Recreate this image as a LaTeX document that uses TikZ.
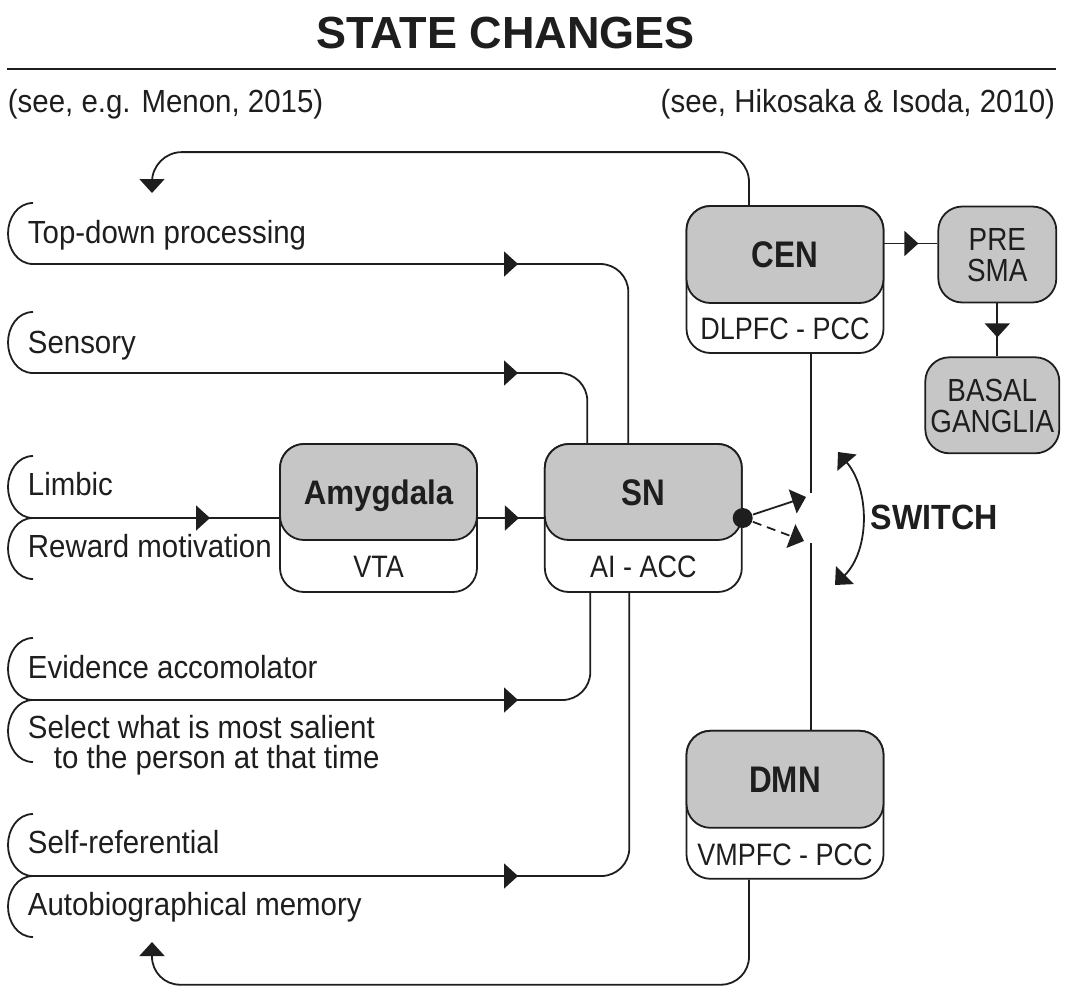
\documentclass[tikz,border=0pt]{standalone}
\usepackage{fontspec}
\setmainfont{Liberation Sans}[FakeStretch=0.92]
\newfontfamily\headfont{Liberation Sans}[FakeStretch=0.85]
\newfontfamily\subfont{Liberation Sans}[FakeStretch=0.87]
\newfontfamily\titlefont{Liberation Sans}
\usetikzlibrary{arrows.meta, positioning, calc, decorations.markings}
\definecolor{boxgray}{RGB}{198,198,198}
\definecolor{inkgray}{RGB}{30,30,30}
\tikzset{
    % Network boxes
    netbox/.style={draw, fill=white, rounded corners=24pt, minimum width=197pt, minimum height=148pt},
    nettop/.style={draw, fill=boxgray, rounded corners=24pt, minimum width=197pt, minimum height=97pt, anchor=north, inner sep=0pt, text height=26pt, text depth=0pt, font=\headfont\bfseries\fontsize{37}{37}\selectfont},
    sublabel/.style={inner sep=0pt, text height=22pt, text depth=0pt, font=\subfont\fontsize{31}{31}\selectfont},
    smallbox/.style={draw, fill=boxgray, rounded corners=24pt, inner sep=0pt, align=center, text depth=0pt, font=\subfont\fontsize{32}{31}\selectfont},
    % Side texts and arrows
    sidetext/.style={anchor=base west, inner sep=0pt, align=left},
    endarrow/.style={-{Triangle[length=14pt,width=25pt]}},
    arrowat/.style={postaction={decorate}, decoration={markings, mark=at position #1 with {\arrow{Triangle[length=14pt,width=25pt]}}}}
}
\newcommand{\sidearc}[2]{\draw (33,-#1) to[out=180,in=90] (8,{-(#1+#2)/2}) to[out=-90,in=180] (33,-#2);}

\begin{document}
\begin{tikzpicture}[x=1pt, y=1pt, line width=1.8pt, color=inkgray, font=\fontsize{32}{30}\selectfont]
        \useasboundingbox (0,0) rectangle (1065,-993);

        % Heading and references
        \node[anchor=base, inner sep=0pt, font=\titlefont\bfseries\fontsize{45}{45}\selectfont] (title) at (505.5,-48) {STATE CHANGES};
        \draw[line width=1.5pt] (7,-69) -- (1056,-69);
        \node[sidetext] (refleft) at (7,-112) {(see, e.g. Menon, 2015)};
        \node[anchor=base east, inner sep=0pt] (refright) at (1056,-112) {(see, Hikosaka \& Isoda, 2010)};

        % Networks
        \node[netbox] (amy) at (378.5,-518) {};
        \node[nettop, minimum height=96pt, text height=24pt, font=\bfseries\fontsize{34}{34}\selectfont] (amytop) at (amy.north) {Amygdala};
        \node[sublabel] (amysub) at ($(amytop.south)!.5!(amy.south)$) {VTA};

        \node[netbox, right=66pt of amy] (sn) {};
        \node[nettop, minimum height=96pt] (sntop) at (sn.north) {SN};
        \node[sublabel] (snsub) at ($(sntop.south)!.5!(sn.south)$) {AI - ACC};

        \node[netbox, minimum height=147pt] (cen) at (785,-279.5) {};
        \node[nettop] (centop) at (cen.north) {CEN};
        \node[sublabel] (censub) at ($(centop.south)!.5!(cen.south)$) {DLPFC - PCC};

        \node[netbox, below=376pt of cen] (dmn) {};
        \node[nettop] (dmntop) at (dmn.north) {DMN};
        \node[sublabel] (dmnsub) at ($(dmntop.south)!.5!(dmn.south)$) {VMPFC - PCC};

        % Motor side
        \node[smallbox, minimum width=118pt, minimum height=96pt, text height=54pt, right=53pt of centop] (presma) {PRE\\SMA};
        \node[smallbox, minimum width=134pt, minimum height=96pt, text height=54pt, below=53pt of presma, xshift=-5pt] (basal) {BASAL\\GANGLIA};

        % Input labels
        \sidearc{203}{264}
        \sidearc{312}{373}
        \sidearc{456}{518}
        \sidearc{518}{579}
        \sidearc{638}{700}
        \sidearc{700}{762}
        \sidearc{814}{876}
        \sidearc{876}{937}
        \node[sidetext] (topdown) at (27,-243) {Top-down processing};
        \node[sidetext] (sensory) at (27,-353) {Sensory};
        \node[sidetext] (limbic) at (27,-495) {Limbic};
        \node[sidetext] (reward) at (27,-557) {Reward motivation};
        \node[sidetext] (evidence) at (27,-678) {Evidence accomolator};
        \node[sidetext] (salient) at (27,-768) {Select what is most salient\\\hspace*{26pt}to the person at that time};
        \node[sidetext] (selfref) at (27,-853) {Self-referential};
        \node[sidetext] (autobio) at (27,-915) {Autobiographical memory};

        \coordinate (topdownout) at (33,-264);
        \coordinate (sensoryout) at (33,-373);
        \coordinate (limbicout) at (33,-518);
        \coordinate (evidenceout) at (33,-700);
        \coordinate (selfrefout) at (33,-876);
        \coordinate (topdownin) at (152,-193);
        \coordinate (autobioin) at (152,-942);

        % Inputs to SN
        \draw[arrowat=485pt, rounded corners=28pt] (topdownout) -| ([xshift=-15pt]sn.north);
        \draw[arrowat=485pt, rounded corners=28pt] (sensoryout) -| ([xshift=-56pt]sn.north);
        \draw[arrowat=177pt] (limbicout) -- (amy.west);
        \draw[arrowat=41pt] (amy) -- (sn);
        \draw[arrowat=485pt, rounded corners=28pt] (evidenceout) -| ([xshift=-53pt]sn.south);
        \draw[arrowat=485pt, rounded corners=28pt] (selfrefout) -| ([xshift=-14pt]sn.south);

        % Feedback from CEN and DMN
        \draw[endarrow, rounded corners=30pt] ([xshift=-36pt]cen.north) -- ++(0,53) -| (topdownin);
        \draw[endarrow, rounded corners=28pt] ([xshift=-36pt]dmn.south) -- ++(0,-105) -| (autobioin);

        % CEN to motor side
        \coordinate (prein) at ([yshift=11pt]presma.west);
        \draw[arrowat=34pt] (centop.east |- prein) -- (prein);
        \draw[arrowat=34pt] (presma.south) -- (presma.south |- basal.north);

        % Switch
        \node[circle, fill, inner sep=0pt, minimum size=20pt] (dot) at (sn.east) {};
        \coordinate (swtop) at (811,-493);
        \coordinate (swbot) at (811,-543);
        \coordinate (swa) at (806,-497);
        \coordinate (swb) at (804,-541);
        \draw ([xshift=26pt]cen.south) -- (swtop);
        \draw (swbot) -- ([xshift=26pt]dmn.north);
        \draw[endarrow] (dot) -- (swa);
        \draw[endarrow, dash pattern=on 9pt off 6pt] (dot) -- (swb);

        \coordinate (swup) at (838,-452);
        \coordinate (swdown) at (835,-585);
        \draw[{Triangle[length=14pt,width=25pt]}-{Triangle[length=14pt,width=25pt]}] (swup) .. controls (870,-490) and (870,-550) .. (swdown);
        \node[anchor=base west, inner sep=0pt, font=\bfseries\fontsize{35}{35}\selectfont] (switch) at (870,-529) {SWITCH};
\end{tikzpicture}
\end{document}
